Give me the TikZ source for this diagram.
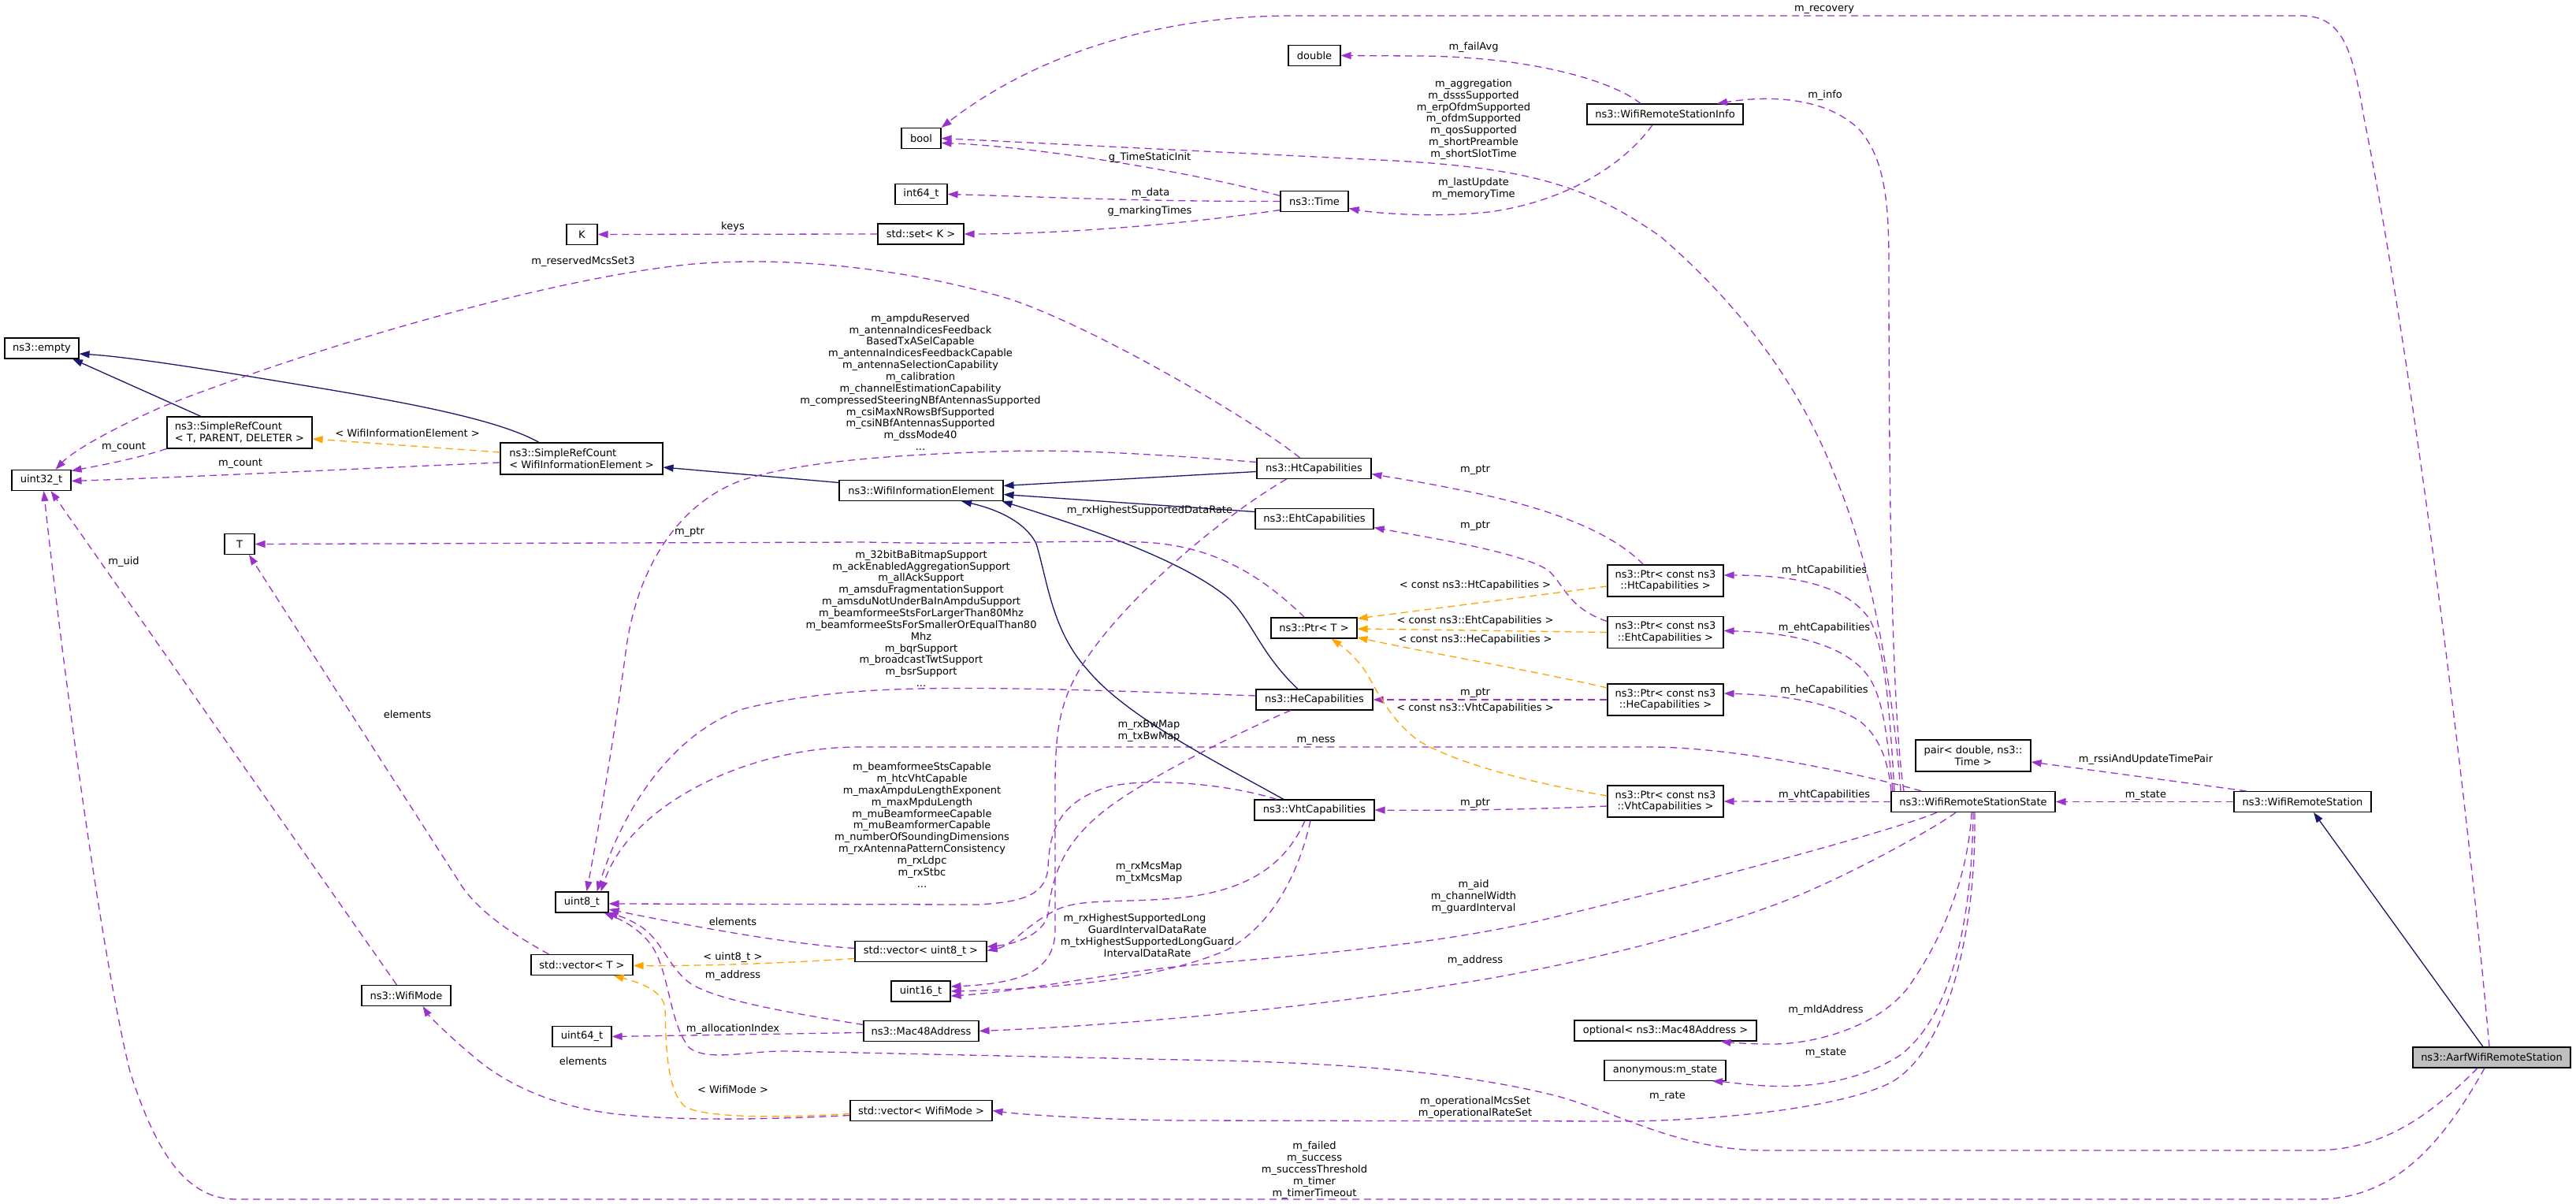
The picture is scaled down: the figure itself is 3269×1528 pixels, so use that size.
\documentclass[tikz,border=0pt]{standalone}
\usepackage{fontspec}
\setmainfont{DejaVu Sans}
\usetikzlibrary{arrows.meta}
\definecolor{usecol}{HTML}{9A32CD}
\definecolor{tmplcol}{HTML}{FFA500}
\definecolor{inhcol}{HTML}{191970}
\definecolor{aarffill}{HTML}{BFBFBF}
\newcommand\dxf{\fontsize{13pt}{14.85pt}\selectfont}
\tikzset{
  box/.style={draw=black, line width=1.1pt, fill=white, inner sep=0pt, minimum height=26pt, font=\dxf},
  dxarrow/.style={-{Triangle[length=13pt,width=9pt]}},
  depe/.style={draw=usecol, line width=1.3pt, dash pattern=on 9pt off 6pt, dxarrow},
  tmpe/.style={draw=tmplcol, line width=1.3pt, dash pattern=on 9pt off 6pt, dxarrow},
  inhe/.style={draw=inhcol, line width=1.3pt, dxarrow},
  lab/.style={font=\dxf, align=center, inner sep=0pt},
}
\begin{document}
\begin{tikzpicture}[x=1pt,y=-1pt]
\fill[white] (0,0) rectangle (3269,1528);
\useasboundingbox (0,0) rectangle (3269,1528);

% ---------- nodes ----------
\node[box,minimum width=50pt] (bool) at (1169,175.5) {bool};
\node[box,minimum width=66pt] (double) at (1668,70.5) {double};
\node[box,minimum width=66pt] (int64) at (1169,246.5) {int64\_t};
\node[box,minimum width=109pt] (setk) at (1168.5,297) {std::set< K >};
\node[box,minimum width=39pt] (k) at (738.5,297.5) {K};
\node[box,minimum width=86pt] (time) at (1668,255.5) {ns3::Time};
\node[box,minimum width=198pt] (info) at (2113,145) {ns3::WifiRemoteStationInfo};
\node[box,minimum width=94pt] (empty) at (53,442) {ns3::empty};
\node[box,minimum width=75pt] (u32) at (52.5,609.5) {uint32\_t};
\node[box,minimum width=184pt,minimum height=40pt,align=left] (srct) at (304,549) {ns3::SimpleRefCount\\< T, PARENT, DELETER >};
\node[box,minimum width=206pt,minimum height=40pt,align=left] (srcw) at (738,582) {ns3::SimpleRefCount\\< WifiInformationElement >};
\node[box,minimum width=208pt] (wie) at (1169,622.5) {ns3::WifiInformationElement};
\node[box,minimum width=145pt] (htcap) at (1667.5,594.5) {ns3::HtCapabilities};
\node[box,minimum width=150pt] (ehtcap) at (1668,658.5) {ns3::EhtCapabilities};
\node[box,minimum width=109pt] (ptrt) at (1667.5,797) {ns3::Ptr< T >};
\node[box,minimum width=148pt] (hecap) at (1668,888) {ns3::HeCapabilities};
\node[box,minimum width=152pt] (vhtcap) at (1668,1028) {ns3::VhtCapabilities};
\node[box,minimum width=147pt,minimum height=40pt,align=center] (ptrht) at (2113.5,737) {ns3::Ptr< const ns3\\::HtCapabilities >};
\node[box,minimum width=147pt,minimum height=40pt,align=center] (ptreht) at (2113.5,802.5) {ns3::Ptr< const ns3\\::EhtCapabilities >};
\node[box,minimum width=147pt,minimum height=40pt,align=center] (ptrhe) at (2113.5,888) {ns3::Ptr< const ns3\\::HeCapabilities >};
\node[box,minimum width=147pt,minimum height=40pt,align=center] (ptrvht) at (2113.5,1017) {ns3::Ptr< const ns3\\::VhtCapabilities >};
\node[box,minimum width=38pt] (t) at (304,690.5) {T};
\node[box,minimum width=67pt] (u8) at (738.5,1145) {uint8\_t};
\node[box,minimum width=129pt] (vect) at (738.5,1224.5) {std::vector< T >};
\node[box,minimum width=167pt] (vecu8) at (1168.5,1207.5) {std::vector< uint8\_t >};
\node[box,minimum width=75pt] (u16) at (1168.5,1258) {uint16\_t};
\node[box,minimum width=146pt] (mac) at (1169,1308.5) {ns3::Mac48Address};
\node[box,minimum width=75pt] (u64) at (738.5,1315.5) {uint64\_t};
\node[box,minimum width=180pt] (vecwm) at (1169,1409.5) {std::vector< WifiMode >};
\node[box,minimum width=113pt] (wmode) at (515.5,1263.5) {ns3::WifiMode};
\node[box,minimum width=146pt,minimum height=40pt,align=center] (pair) at (2504,959) {pair< double, ns3::\\Time >};
\node[box,minimum width=208pt] (wrss) at (2504,1017.5) {ns3::WifiRemoteStationState};
\node[box,minimum width=174pt] (wrs) at (2922,1017.5) {ns3::WifiRemoteStation};
\node[box,minimum width=200pt,fill=aarffill] (aarf) at (3162,1342) {ns3::AarfWifiRemoteStation};
\node[box,minimum width=231pt] (opt) at (2113.5,1308) {optional< ns3::Mac48Address >};
\node[box,minimum width=154pt] (anon) at (2113,1358.5) {anonymous:m\_state};

% ---------- edges: Aarf / WifiRemoteStation ----------
\draw[inhe] ([xshift=-11pt]aarf.north) -- ([xshift=14pt]wrs.south);
\draw[depe] (wrs.west) -- (wrss.east);
\draw[depe] ([xshift=-71pt]wrs.north) -- ([yshift=-8pt]pair.east);
\draw[depe] ([xshift=-3pt]aarf.north) .. controls (3130,1000) and (3060,450) .. (3000,150) .. controls (2985,60) and (2972,20) .. (2920,20) -- (1640,20) .. controls (1450,20) and (1300,80) .. (bool.north east);
\draw[depe] ([xshift=-18pt]aarf.south) .. controls (3080,1420) and (3020,1460) .. (2936,1460) -- (2240,1460) .. controls (2130,1460) and (2050,1410) .. (1972,1390) .. controls (1850,1360) and (1700,1348) .. (1500,1345) -- (1000,1334) .. controls (950,1333) and (900,1348) .. (875,1330) .. controls (850,1300) and (850,1240) .. (830,1205) .. controls (815,1180) and (790,1168) .. ([xshift=-6pt]u8.south east);
\draw[depe] ([xshift=-9pt]aarf.south) .. controls (3100,1450) and (3040,1522) .. (2940,1522) -- (300,1522) .. controls (240,1522) and (200,1470) .. (165,1360) .. controls (130,1220) and (80,850) .. ([xshift=3pt]u32.south);

% ---------- edges: WifiRemoteStationState ----------
\draw[depe] ([xshift=-92pt]wrss.north) .. controls (2400,850) and (2370,700) .. (2327,600) .. controls (2280,480) and (2200,380) .. (2107,300) .. controls (2020,240) and (1950,212) .. (1750,203) -- (bool.east);
\draw[depe] ([xshift=-88pt]wrss.north) .. controls (2400,900) and (2397,600) .. (2397,333) .. controls (2397,250) and (2390,200) .. (2360,165) .. controls (2320,125) and (2250,120) .. ([xshift=66pt]info.north);
\draw[depe] ([xshift=-100pt]wrss.north) .. controls (2398,900) and (2392,820) .. (2372,785) .. controls (2340,740) and (2270,730) .. ([yshift=7pt]ptrht.east);
\draw[depe] ([xshift=-102pt]wrss.north) .. controls (2396,950) and (2392,890) .. (2372,860) .. controls (2345,820) and (2280,803) .. ([yshift=2pt]ptreht.east);
\draw[depe] ([xshift=-104pt]wrss.north) .. controls (2396,965) and (2385,935) .. (2360,915) .. controls (2320,890) and (2260,882) .. ([yshift=8pt]ptrhe.east);
\draw[depe] (wrss.west) -- (ptrvht.east);
\draw[depe] ([xshift=-66pt]wrss.north) .. controls (2410,995) and (2230,950) .. (2100,948) -- (1090,948) .. controls (950,948) and (800,1020) .. ([xshift=24pt]u8.north);
\draw[depe] ([xshift=-46pt]wrss.south) .. controls (2420,1048) and (2200,1110) .. (1947,1170) .. controls (1800,1202) and (1650,1212) .. (1500,1226) .. controls (1400,1236) and (1300,1258) .. ([yshift=-6pt]u16.east);
\draw[depe] ([xshift=-22pt]wrss.south) .. controls (2460,1048) and (2350,1110) .. (2266,1143) .. controls (2150,1188) and (2000,1222) .. (1900,1240) .. controls (1700,1275) and (1450,1300) .. (mac.east);
\draw[depe] ([xshift=-2pt]wrss.south) .. controls (2497,1120) and (2460,1200) .. (2420,1255) .. controls (2380,1305) and (2300,1325) .. (2250,1325) .. controls (2220,1325) and (2195,1323) .. ([xshift=70pt]opt.south);
\draw[depe] (wrss.south) .. controls (2502,1200) and (2465,1300) .. (2410,1340) .. controls (2350,1378) and (2280,1380) .. (2240,1378) .. controls (2210,1376) and (2190,1373) .. ([xshift=60pt]anon.south);
\draw[depe] ([xshift=2pt]wrss.south) .. controls (2508,1200) and (2465,1345) .. (2393,1377) .. controls (2330,1405) and (2200,1420) .. (2074,1423) -- (1500,1422) .. controls (1400,1421) and (1300,1415) .. (vecwm.east);

% ---------- edges: Info / Time ----------
\draw[depe] ([xshift=-31pt]info.north) .. controls (2050,105) and (1950,72) .. (1800,71) -- (double.east);
\draw[depe] ([xshift=-16pt]info.south) .. controls (2060,210) and (1990,252) .. (1903,267) .. controls (1850,276) and (1760,273) .. ([yshift=-9pt]time.east);
\draw[depe] ([yshift=7pt]time.west) .. controls (1500,215) and (1300,185) .. ([yshift=-6pt]bool.east);
\draw[depe] (time.west) .. controls (1450,256) and (1300,249) .. (int64.east);
\draw[depe] ([yshift=-11pt]time.west) .. controls (1450,292) and (1300,297) .. (setk.east);
\draw[depe] (setk.west) -- (k.east);

% ---------- edges: inheritance ----------
\draw[inhe] ([yshift=-4pt]htcap.west) -- ([yshift=6pt]wie.east);
\draw[inhe] ([yshift=9pt]ehtcap.west) -- ([yshift=-5pt]wie.east);
\draw[inhe] ([xshift=-21pt]hecap.north) .. controls (1600,830) and (1590,790) .. (1560,760) .. controls (1500,710) and (1380,670) .. ([xshift=-2pt]wie.south east);
\draw[inhe] ([xshift=-39pt]vhtcap.north) .. controls (1540,965) and (1430,910) .. (1380,850) .. controls (1335,800) and (1330,740) .. (1315,690) .. controls (1300,660) and (1260,645) .. ([xshift=51pt]wie.south);
\draw[inhe] ([yshift=10pt]wie.west) -- ([yshift=-11pt]srcw.east);
\draw[inhe] ([xshift=-54pt]srcw.north) .. controls (620,525) and (450,500) .. (300,475) .. controls (220,462) and (150,452) .. ([yshift=-7pt]empty.east);
\draw[inhe] ([xshift=-49pt]srct.north) -- ([xshift=39pt]empty.south);

% ---------- edges: SimpleRefCount ----------
\draw[tmpe] ([yshift=8pt]srcw.west) -- ([yshift=-8pt]srct.east);
\draw[depe] ([yshift=-5pt]srcw.west) .. controls (450,595) and (250,605) .. ([yshift=-1pt]u32.east);
\draw[depe] (srct.south west) .. controls (170,583) and (120,592) .. ([yshift=12pt]u32.east);

% ---------- edges: capabilities ----------
\draw[depe] ([xshift=-18pt]htcap.north) .. controls (1600,540) and (1400,420) .. (1283,380) .. controls (1150,340) and (1000,325) .. (880,335) .. controls (700,352) and (400,440) .. (204,517) .. controls (130,550) and (90,575) .. ([xshift=18pt]u32.north);
\draw[depe] ([yshift=8pt]htcap.west) .. controls (1450,575) and (1350,570) .. (1266,573) .. controls (1100,578) and (1000,590) .. (940,610) .. controls (860,640) and (810,720) .. (795,820) .. controls (785,900) and (760,1050) .. ([xshift=6pt]u8.north);
\draw[depe] ([yshift=5pt]hecap.west) .. controls (1450,878) and (1250,870) .. (1134,875) .. controls (1050,878) and (980,890) .. (942,900) .. controls (870,925) and (800,1000) .. ([xshift=19pt]u8.north);
\draw[depe] ([xshift=-48pt]vhtcap.north) .. controls (1560,995) and (1450,985) .. (1402,1000) .. controls (1340,1020) and (1332,1060) .. (1330,1100) .. controls (1328,1135) and (1300,1145) .. (1240,1148) -- ([yshift=-2pt]u8.east);
\draw[depe] ([xshift=-35pt]htcap.south) .. controls (1560,650) and (1450,740) .. (1390,820) .. controls (1345,880) and (1339,920) .. (1339,1000) -- (1339,1180) .. controls (1339,1230) and (1300,1248) .. ([yshift=6pt]u16.east);
\draw[depe] ([xshift=-5pt]vhtcap.south) .. controls (1650,1100) and (1620,1170) .. (1558,1205) .. controls (1480,1240) and (1350,1255) .. (u16.east);
\draw[depe] ([xshift=-30pt]hecap.south) .. controls (1570,930) and (1450,990) .. (1400,1030) .. controls (1350,1070) and (1335,1110) .. (1330,1160) .. controls (1325,1185) and (1290,1198) .. ([yshift=6pt]vecu8.east);
\draw[depe] ([xshift=-12pt]vhtcap.south) .. controls (1630,1100) and (1580,1132) .. (1491,1140) .. controls (1420,1146) and (1370,1140) .. (1340,1155) .. controls (1300,1175) and (1285,1200) .. ([yshift=1pt]vecu8.east);

% ---------- edges: containers ----------
\draw[depe] ([yshift=4pt]vecu8.west) .. controls (1000,1198) and (880,1176) .. ([yshift=-9pt]u8.east);
\draw[tmpe] ([yshift=-9pt]vecu8.west) .. controls (1000,1222) and (900,1226) .. ([yshift=-1pt]vect.east);
\draw[tmpe] ([yshift=-4pt]vecwm.west) .. controls (1000,1418) and (900,1420) .. (870,1405) .. controls (845,1385) and (845,1320) .. (844,1280) .. controls (842,1258) and (815,1248) .. ([xshift=40pt]vect.south);
\draw[depe] ([yshift=-6pt]vecwm.west) .. controls (950,1422) and (850,1422) .. (775,1413) .. controls (700,1403) and (640,1375) .. (600,1340) .. controls (570,1315) and (545,1290) .. ([xshift=21pt]wmode.south);
\draw[depe] ([yshift=8pt]mac.west) .. controls (1000,1285) and (900,1268) .. (872,1245) .. controls (848,1225) and (840,1195) .. (815,1177) .. controls (800,1167) and (785,1162) .. ([xshift=-2pt]u8.south east);
\draw[depe] ([yshift=-2pt]mac.west) -- (u64.east);
\draw[depe] ([xshift=-12pt]wmode.north) -- ([xshift=12pt]u32.south);
\draw[depe] ([xshift=-42pt]vect.north) .. controls (640,1180) and (600,1150) .. (580,1115) -- ([xshift=12pt]t.south);
\draw[depe] ([xshift=-12pt]ptrt.north) .. controls (1600,730) and (1540,692) .. (1449,688) .. controls (1350,685) and (1250,692) .. (1100,688) -- (t.east);

% ---------- edges: Ptr ----------
\draw[depe] ([xshift=-28pt]ptrht.north) .. controls (2040,670) and (1950,640) .. (1844,620) .. controls (1800,611) and (1760,605) .. ([yshift=-7pt]htcap.east);
\draw[depe] ([yshift=14pt]ptreht.west) .. controls (1990,772) and (1985,742) .. (1965,724) .. controls (1930,700) and (1800,680) .. ([yshift=-11pt]ehtcap.east);
\draw[depe] (ptrhe.west) -- (hecap.east);
\draw[depe] ([yshift=-6pt]ptrvht.west) .. controls (1950,1027) and (1850,1029) .. (vhtcap.east);
\draw[tmpe] ([yshift=-7pt]ptrht.west) -- ([yshift=12pt]ptrt.east);
\draw[tmpe] (ptreht.west) -- ([yshift=-1pt]ptrt.east);
\draw[tmpe] ([yshift=15pt]ptrhe.west) .. controls (1950,852) and (1820,830) .. ([yshift=-12pt]ptrt.east);
\draw[tmpe] ([yshift=7pt]ptrvht.west) .. controls (1950,995) and (1850,970) .. (1800,940) .. controls (1760,910) and (1745,870) .. (1730,848) .. controls (1715,828) and (1700,818) .. ([xshift=22pt]ptrt.south);

% ---------- labels ----------
\node[lab] (l01) at (2315,12) {m\_recovery};
\node[lab] (l02) at (1870,60) {m\_failAvg};
\node[lab] (l03) at (1870,151.5) {m\_aggregation\\m\_dsssSupported\\m\_erpOfdmSupported\\m\_ofdmSupported\\m\_qosSupported\\m\_shortPreamble\\m\_shortSlotTime};
\node[lab] (l04) at (1870,239.5) {m\_lastUpdate\\m\_memoryTime};
\node[lab] (l05) at (2316,121) {m\_info};
\node[lab] (l06) at (1459,200) {g\_TimeStaticInit};
\node[lab] (l07) at (1460,245) {m\_data};
\node[lab] (l08) at (1459,268) {g\_markingTimes};
\node[lab] (l09) at (930,288) {keys};
\node[lab] (l10) at (740,332) {m\_reservedMcsSet3};
\node[lab] (l11) at (517,550) {< WifiInformationElement >};
\node[lab] (l12) at (157,567) {m\_count};
\node[lab] (l13) at (305,588) {m\_count};
\node[lab] (l14) at (1168,485) {m\_ampduReserved\\m\_antennaIndicesFeedback\hspace*{124pt}\\BasedTxASelCapable\\m\_antennaIndicesFeedbackCapable\\m\_antennaSelectionCapability\\m\_calibration\\m\_channelEstimationCapability\\m\_compressedSteeringNBfAntennasSupported\\m\_csiMaxNRowsBfSupported\\m\_csiNBfAntennasSupported\\m\_dssMode40\\...};
\node[lab] (l15) at (1459,648) {m\_rxHighestSupportedDataRate};
\node[lab] (l16) at (1872,596) {m\_ptr};
\node[lab] (l17) at (1872,667) {m\_ptr};
\node[lab] (l18) at (1872,879) {m\_ptr};
\node[lab] (l19) at (1872,1019) {m\_ptr};
\node[lab] (l20) at (1872,743) {< const ns3::HtCapabilities >};
\node[lab] (l21) at (1872,788) {< const ns3::EhtCapabilities >};
\node[lab] (l22) at (1872,812) {< const ns3::HeCapabilities >};
\node[lab] (l23) at (1872,899) {< const ns3::VhtCapabilities >};
\node[lab] (l24) at (2315,724) {m\_htCapabilities};
\node[lab] (l25) at (2315,797) {m\_ehtCapabilities};
\node[lab] (l26) at (2315,876) {m\_heCapabilities};
\node[lab] (l27) at (2315,1009) {m\_vhtCapabilities};
\node[lab] (l28) at (875,675) {m\_ptr};
\node[lab] (l29) at (1169,785) {m\_32bitBaBitmapSupport\\m\_ackEnabledAggregationSupport\\m\_allAckSupport\\m\_amsduFragmentationSupport\\m\_amsduNotUnderBaInAmpduSupport\\m\_beamformeeStsForLargerThan80Mhz\\m\_beamformeeStsForSmallerOrEqualThan80\\Mhz\\m\_bqrSupport\\m\_broadcastTwtSupport\\m\_bsrSupport\\...};
\node[lab] (l30) at (1458,927.5) {m\_rxBwMap\\m\_txBwMap};
\node[lab] (l31) at (1670,940) {m\_ness};
\node[lab] (l32) at (1170,1047) {m\_beamformeeStsCapable\\m\_htcVhtCapable\\m\_maxAmpduLengthExponent\\m\_maxMpduLength\\m\_muBeamformeeCapable\\m\_muBeamformerCapable\\m\_numberOfSoundingDimensions\\m\_rxAntennaPatternConsistency\\m\_rxLdpc\\m\_rxStbc\\...};
\node[lab] (l33) at (1458,1107.5) {m\_rxMcsMap\\m\_txMcsMap};
\node[lab] (l34) at (1456,1187) {m\_rxHighestSupportedLong\hspace*{32pt}\\GuardIntervalDataRate\\m\_txHighestSupportedLongGuard\\IntervalDataRate};
\node[lab] (l35) at (1870,1138) {m\_aid\\m\_channelWidth\\m\_guardInterval};
\node[lab] (l36) at (1872,1219) {m\_address};
\node[lab] (l37) at (2317,1282) {m\_mldAddress};
\node[lab] (l38) at (2317,1336) {m\_state};
\node[lab] (l39) at (2116,1391) {m\_rate};
\node[lab] (l40) at (1872,1406) {m\_operationalMcsSet\\m\_operationalRateSet};
\node[lab] (l41) at (1668,1485) {m\_failed\\m\_success\\m\_successThreshold\\m\_timer\\m\_timerTimeout};
\node[lab] (l42) at (517,907) {elements};
\node[lab] (l43) at (157,713) {m\_uid};
\node[lab] (l44) at (930,1170) {elements};
\node[lab] (l45) at (930,1215) {< uint8\_t >};
\node[lab] (l46) at (930,1238) {m\_address};
\node[lab] (l47) at (930,1306) {m\_allocationIndex};
\node[lab] (l48) at (740,1347) {elements};
\node[lab] (l49) at (930,1383) {< WifiMode >};
\node[lab] (l50) at (2723,964) {m\_rssiAndUpdateTimePair};
\node[lab] (l51) at (2723,1009) {m\_state};
\end{tikzpicture}
\end{document}
